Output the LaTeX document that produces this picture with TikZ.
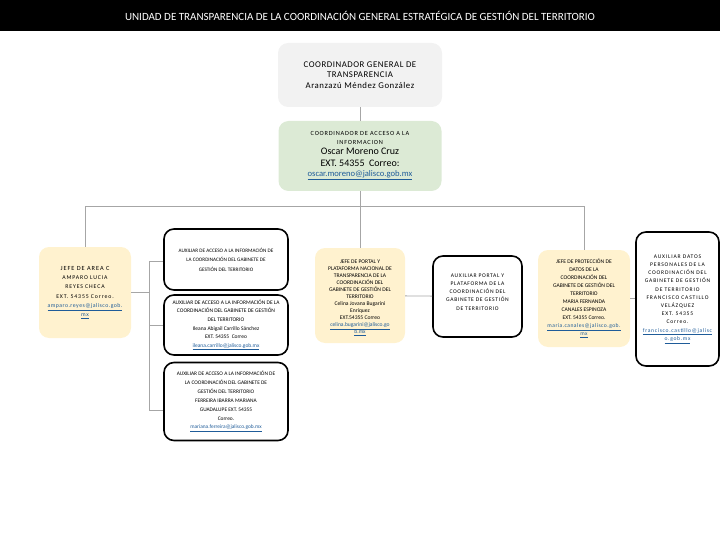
\documentclass[tikz,border=0pt]{standalone}
\usepackage{fontspec}
\setmainfont{Carlito}
\newfontfamily\lsA[LetterSpace=15]{Carlito}
\newfontfamily\lsB[LetterSpace=8]{Carlito}
\newfontfamily\lsC[LetterSpace=6]{Carlito}
\newfontfamily\lsD[LetterSpace=12]{Carlito}
\definecolor{boxgray}{HTML}{F2F2F2}
\definecolor{boxgreen}{HTML}{DCEAD5}
\definecolor{boxyellow}{HTML}{FFF2CF}
\definecolor{linegray}{HTML}{A6A6A6}
\definecolor{linkblue}{HTML}{1F5C99}
\newcommand\maillink[1]{\textcolor{linkblue}{\underline{#1}}}
\newcommand\bigfs{\fontsize{10}{12}\selectfont}
\newcommand\mailfs{\fontsize{8.6}{10}\selectfont}
\begin{document}
\begin{tikzpicture}[x=1pt,y=-1pt,
  box/.style={rectangle, rounded corners=10pt, align=center, inner sep=2pt},
  graybox/.style={box, fill=boxgray},
  greenbox/.style={box, fill=boxgreen},
  yellowbox/.style={box, fill=boxyellow},
  whitebox/.style={box, draw=black, line width=1.6pt, fill=white},
  conn/.style={draw=linegray, line width=0.8pt}]
\useasboundingbox (0,0) rectangle (720,540);

\node[fill=black, minimum width=720pt, minimum height=31pt, inner sep=0pt, text=white,
  font=\fontsize{11}{13}\selectfont] (title) at (360,15.5)
  {UNIDAD DE TRANSPARENCIA DE LA COORDINACIÓN GENERAL ESTRATÉGICA DE GESTIÓN DEL TERRITORIO};

\node[graybox, minimum width=164pt, minimum height=64pt, font=\lsC\fontsize{8.8}{10.8}\selectfont] (cg) at (360,75)
  {COORDINADOR GENERAL DE\\TRANSPARENCIA\\Aranzazú Méndez González};

\node[greenbox, minimum width=163pt, minimum height=70pt, font=\fontsize{6.3}{10}\selectfont] (ca) at (360,156)
  {\lsD COORDINADOR DE ACCESO A LA\\[-1pt]\lsD INFORMACION\\
   \bigfs Oscar Moreno Cruz\\[2pt]\bigfs EXT. 54355\ \ Correo:\\
   \mailfs\maillink{oscar.moreno@jalisco.gob.mx}};

\node[yellowbox, minimum width=92pt, minimum height=91pt, font=\lsA\fontsize{5.8}{9.2}\selectfont] (ja) at (85,292.5)
  {\fontsize{6.3}{9.2}\selectfont JEFE DE AREA C\\
   AMPARO LUCIA\\REYES CHECA\\EXT. 54355 Correo.\\
   \lsB\maillink{amparo.reyes@jalisco.gob.}\\\lsB\maillink{mx}};

\node[whitebox, minimum width=124pt, minimum height=61pt, font=\fontsize{5.2}{9.5}\selectfont] (a1) at (226,259.5)
  {AUXILIAR DE ACCESO A LA INFORMACIÓN DE\\LA COORDINACIÓN DEL GABINETE DE\\GESTIÓN DEL TERRITORIO};

\node[whitebox, minimum width=124pt, minimum height=60pt, font=\fontsize{5.5}{8.6}\selectfont] (a2) at (226,325)
  {AUXILIAR DE ACCESO A LA INFORMACIÓN DE LA\\COORDINACIÓN DEL GABINETE DE GESTIÓN\\DEL TERRITORIO\\
   Ileana Abigail Carrillo Sánchez\\EXT. 54355\ \ Correo\\\maillink{ileana.carrillo@jalisco.gob.mx}};

\node[whitebox, minimum width=124pt, minimum height=78pt, font=\fontsize{5.4}{8.9}\selectfont] (a3) at (226,401.5)
  {AUXILIAR DE ACCESO A LA INFORMACIÓN DE\\LA COORDINACIÓN DEL GABINETE DE\\GESTIÓN DEL TERRITORIO\\
   FERREIRA IBARRA MARIANA\\GUADALUPE EXT. 54355\\Correo.\\\maillink{mariana.ferreira@jalisco.gob.mx}};

\node[yellowbox, minimum width=90pt, minimum height=95pt, font=\fontsize{5.6}{7}\selectfont] (jp) at (360,295.5)
  {\mbox{}\\[1pt]JEFE DE PORTAL Y\\PLATAFORMA NACIONAL DE\\TRANSPARENCIA DE LA\\COORDINACIÓN DEL\\GABINETE DE GESTIÓN DEL\\TERRITORIO\\
   Celina Jovana Bugarini\\Enríquez\\EXT.54355 Correo\\\maillink{celina.bugarini@jalisco.go}\\\maillink{b.mx}};

\node[whitebox, minimum width=89pt, minimum height=81pt, font=\lsD\fontsize{5.6}{8.2}\selectfont] (ap) at (477.5,296.5)
  {AUXILIAR PORTAL Y\\PLATAFORMA DE LA\\COORDINACIÓN DEL\\GABINETE DE GESTIÓN\\DE TERRITORIO\\[1pt]\mbox{}};

\node[yellowbox, minimum width=92pt, minimum height=97pt, font=\fontsize{5.6}{8}\selectfont] (jd) at (584,298.5)
  {JEFE DE PROTECCIÓN DE\\DATOS DE LA\\COORDINACIÓN DEL\\GABINETE DE GESTIÓN DEL\\TERRITORIO\\
   MARIA FERNANDA\\CANALES ESPINOZA\\EXT. 54355 Correo.\\\lsB\maillink{maria.canales@jalisco.gob.}\\\lsB\maillink{mx}};

\node[whitebox, minimum width=83pt, minimum height=134pt, font=\lsA\fontsize{5.6}{8.2}\selectfont] (ad) at (677.5,299)
  {AUXILIAR DATOS\\PERSONALES DE LA\\COORDINACIÓN DEL\\GABINETE DE GESTIÓN\\DE TERRITORIO\\
   FRANCISCO CASTILLO\\VELÁZQUEZ\\EXT. 54355\\Correo.\\\lsD\maillink{francisco.castillo@jalisc}\\\lsD\maillink{o.gob.mx}};

% connectors
\draw[conn] (cg) -- (ca);
\draw[conn] (ca.south) -- ++(0,15) coordinate (bus);
\draw[conn] (bus) -| (ja.north);
\draw[conn] (bus) -- (jp.north);
\draw[conn] (bus) -| (jd.north);
\draw[conn] (ja.east) -- ++(18,0) coordinate (split);
\draw[conn] (split) |- ([yshift=-2pt]a1.west);
\draw[conn] (split) |- (a2.west);
\draw[conn] (split) |- ([yshift=-9pt]a3.west);
\draw[conn] (jp) -- (ap);
\draw[conn] (jd.east) -- (jd.east -| ad.west);
\end{tikzpicture}
\end{document}
